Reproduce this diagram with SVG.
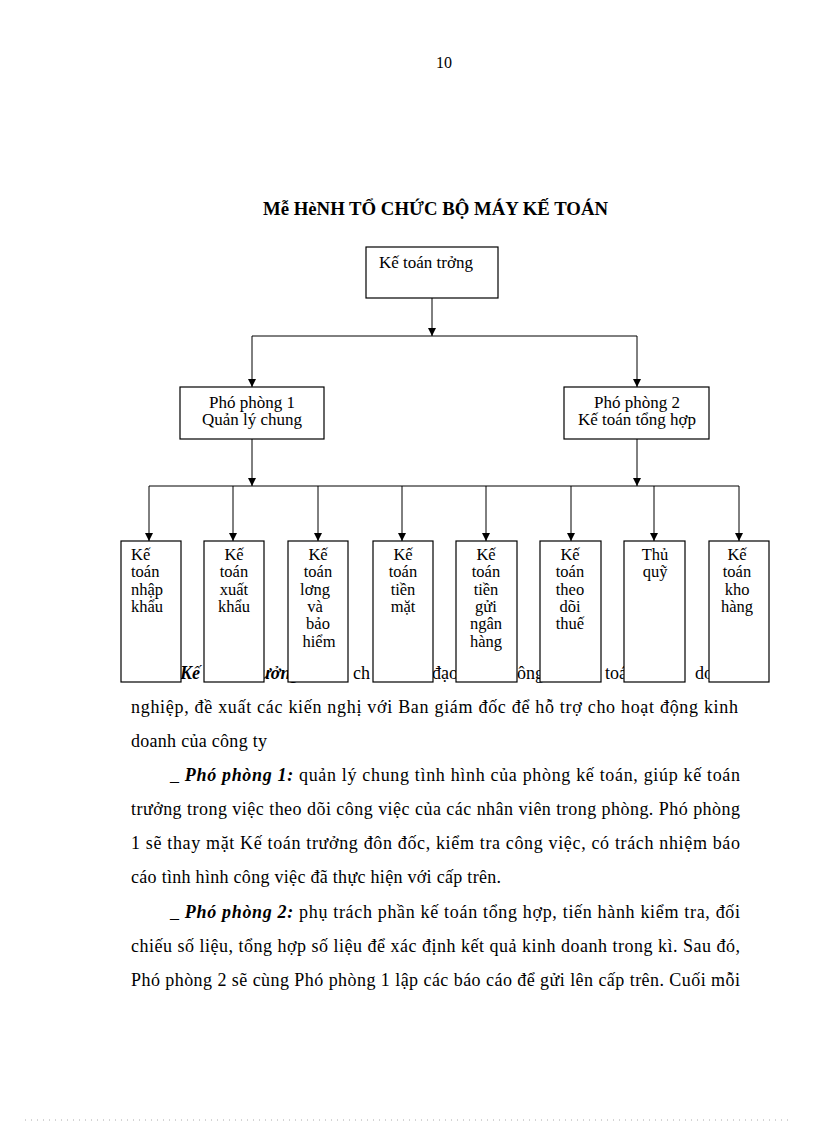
<svg xmlns="http://www.w3.org/2000/svg" width="816" height="1123" viewBox="0 0 816 1123">
<style>
.pg{font-family:"Liberation Serif","Times New Roman",serif;fill:#000}
.body{font-family:"Liberation Serif","Times New Roman",serif;font-size:18px;fill:#000}
.bi{font-weight:bold;font-style:italic}
.title{font-family:"Liberation Serif","Times New Roman",serif;font-size:18px;font-weight:bold;fill:#000}
.box{fill:#fff;stroke:#000;stroke-width:1.2}
.lbl{font-family:"Liberation Serif","Times New Roman",serif;font-size:17px;fill:#000}
.sm{font-family:"Liberation Serif","Times New Roman",serif;font-size:16.5px;fill:#000}
.c{text-anchor:middle}
.ln{fill:none;stroke:#000;stroke-width:1}
</style>
<defs>
<marker id="arr" viewBox="0 0 10 10" refX="10" refY="5" markerWidth="8" markerHeight="8" markerUnits="userSpaceOnUse" orient="auto">
<path d="M0,0 L10,5 L0,10 z" fill="#000"/>
</marker>
</defs>
<rect x="0" y="0" width="816" height="1123" fill="#fff"/>

<text class="pg" x="444" y="68" font-size="16" text-anchor="middle">10</text>
<text class="title" x="263" y="215" textLength="345" lengthAdjust="spacingAndGlyphs">Mễ HèNH TỔ CHỨC BỘ MÁY KẾ TOÁN</text>

<g id="paragraph" class="body">
<text y="679"><tspan x="168">_</tspan><tspan x="180" class="bi">Kế</tspan><tspan x="248" class="bi">trưởng</tspan><tspan x="353">ch</tspan><tspan x="432">đạo</tspan><tspan x="509">công</tspan><tspan x="605">toán</tspan><tspan x="695">doanh</tspan></text>
<text x="131" y="713" textLength="607" lengthAdjust="spacing">nghiệp, đề xuất các kiến nghị với Ban giám đốc để hỗ trợ cho hoạt động kinh</text>
<text x="131" y="747" textLength="136" lengthAdjust="spacing">doanh của công ty</text>
<text x="170" y="781" textLength="570" lengthAdjust="spacing">_ <tspan class="bi">Phó phòng 1:</tspan> quản lý chung tình hình của phòng kế toán, giúp kế toán</text>
<text x="131" y="815" textLength="609" lengthAdjust="spacing">trưởng trong việc theo dõi công việc của các nhân viên trong phòng. Phó phòng</text>
<text x="131" y="849" textLength="609" lengthAdjust="spacing">1 sẽ thay mặt Kế toán trưởng đôn đốc, kiểm tra công việc, có trách nhiệm báo</text>
<text x="131" y="883" textLength="370" lengthAdjust="spacing">cáo tình hình công việc đã thực hiện với cấp trên.</text>
<text x="170" y="918" textLength="570" lengthAdjust="spacing">_ <tspan class="bi">Phó phòng 2:</tspan> phụ trách phần kế toán tổng hợp, tiến hành kiểm tra, đối</text>
<text x="131" y="952" textLength="609" lengthAdjust="spacing">chiếu số liệu, tổng hợp số liệu để xác định kết quả kinh doanh trong kì. Sau đó,</text>
<text x="131" y="986" textLength="609" lengthAdjust="spacing">Phó phòng 2 sẽ cùng Phó phòng 1 lập các báo cáo để gửi lên cấp trên. Cuối mỗi</text>
</g>

<g id="connectors" class="ln">
<line x1="432" y1="298" x2="432" y2="336" marker-end="url(#arr)"/>
<line x1="252" y1="336" x2="637" y2="336"/>
<line x1="252" y1="336" x2="252" y2="387" marker-end="url(#arr)"/>
<line x1="637" y1="336" x2="637" y2="387" marker-end="url(#arr)"/>
<line x1="252" y1="439" x2="252" y2="486" marker-end="url(#arr)"/>
<line x1="637" y1="439" x2="637" y2="486" marker-end="url(#arr)"/>
<line x1="149" y1="486" x2="739" y2="486"/>
<line x1="149" y1="486" x2="149" y2="541" marker-end="url(#arr)"/>
<line x1="233" y1="486" x2="233" y2="541" marker-end="url(#arr)"/>
<line x1="318" y1="486" x2="318" y2="541" marker-end="url(#arr)"/>
<line x1="402" y1="486" x2="402" y2="541" marker-end="url(#arr)"/>
<line x1="486" y1="486" x2="486" y2="541" marker-end="url(#arr)"/>
<line x1="571" y1="486" x2="571" y2="541" marker-end="url(#arr)"/>
<line x1="654" y1="486" x2="654" y2="541" marker-end="url(#arr)"/>
<line x1="739" y1="486" x2="739" y2="541" marker-end="url(#arr)"/>
</g>

<g id="ke-toan-truong">
<rect class="box" x="366" y="247" width="132" height="51"/>
<text class="lbl" x="379" y="268">Kế toán trởng</text>
</g>

<g id="pho-phong-1">
<rect class="box" x="180" y="387" width="144" height="52"/>
<text class="lbl c" x="252" y="408">Phó phòng 1</text>
<text class="lbl c" x="252" y="425">Quản lý chung</text>
</g>

<g id="pho-phong-2">
<rect class="box" x="564" y="387" width="145" height="52"/>
<text class="lbl c" x="637" y="408">Phó phòng 2</text>
<text class="lbl c" x="637" y="425">Kế toán tổng hợp</text>
</g>

<g id="kt-nhap-khau">
<rect class="box" x="121" y="541" width="60" height="141"/>
<text class="sm" x="131" y="560">Kế<tspan x="131" dy="17.3">toán</tspan><tspan x="131" dy="17.3">nhập</tspan><tspan x="131" dy="17.3">khẩu</tspan></text>
</g>

<g id="kt-xuat-khau">
<rect class="box" x="204" y="541" width="60" height="141"/>
<text class="sm c" x="234" y="560">Kế<tspan x="234" dy="17.3">toán</tspan><tspan x="234" dy="17.3">xuất</tspan><tspan x="234" dy="17.3">khẩu</tspan></text>
</g>

<g id="kt-luong-bao-hiem">
<rect class="box" x="288" y="541" width="60" height="141"/>
<text class="sm c" x="318" y="560">Kế<tspan x="318" dy="17.3">toán</tspan><tspan x="315" dy="17.3">lơng</tspan><tspan x="315" dy="17.3">và</tspan><tspan x="318" dy="17.3">bảo</tspan><tspan x="319" dy="17.3">hiểm</tspan></text>
</g>

<g id="kt-tien-mat">
<rect class="box" x="373" y="541" width="60" height="141"/>
<text class="sm c" x="403" y="560">Kế<tspan x="403" dy="17.3">toán</tspan><tspan x="403" dy="17.3">tiền</tspan><tspan x="403" dy="17.3">mặt</tspan></text>
</g>

<g id="kt-tien-gui-ngan-hang">
<rect class="box" x="456" y="541" width="61" height="141"/>
<text class="sm c" x="486" y="560">Kế<tspan x="486" dy="17.3">toán</tspan><tspan x="486" dy="17.3">tiền</tspan><tspan x="486" dy="17.3">gửi</tspan><tspan x="486" dy="17.3">ngân</tspan><tspan x="486" dy="17.3">hàng</tspan></text>
</g>

<g id="kt-theo-doi-thue">
<rect class="box" x="540" y="541" width="61" height="141"/>
<text class="sm c" x="570" y="560">Kế<tspan x="570" dy="17.3">toán</tspan><tspan x="570" dy="17.3">theo</tspan><tspan x="570" dy="17.3">dõi</tspan><tspan x="570" dy="17.3">thuế</tspan></text>
</g>

<g id="thu-quy">
<rect class="box" x="624" y="541" width="61" height="141"/>
<text class="sm c" x="655" y="560">Thủ<tspan x="655" dy="17.3">quỹ</tspan></text>
</g>

<g id="kt-kho-hang">
<rect class="box" x="709" y="541" width="60" height="141"/>
<text class="sm c" x="737" y="560">Kế<tspan x="737" dy="17.3">toán</tspan><tspan x="737" dy="17.3">kho</tspan><tspan x="737" dy="17.3">hàng</tspan></text>
</g>

<line x1="25" y1="1120" x2="793" y2="1120" stroke="#aaa" stroke-width="1" stroke-dasharray="1 5"/>
</svg>
